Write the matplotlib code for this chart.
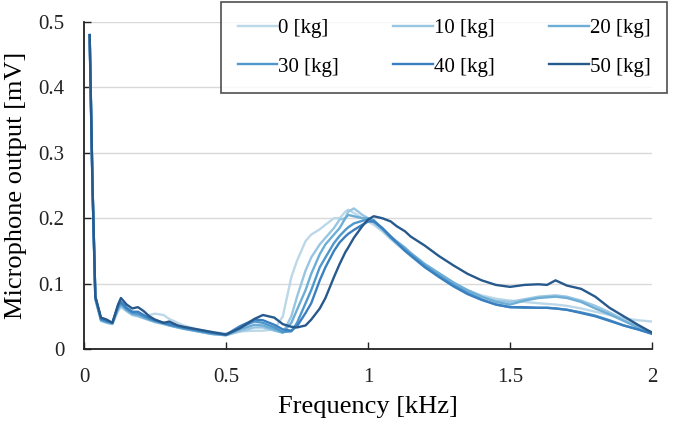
import numpy as np
import matplotlib.pyplot as plt

# ------------------ DATOS ------------------

freq = [0.02, 0.03, 0.04, 0.06, 0.08, 0.1,
        0.12, 0.13, 0.15, 0.17, 0.19,
        0.21, 0.23, 0.25, 0.28, 0.3,
        0.33, 0.35, 0.4, 0.45, 0.5,
        0.55, 0.6, 0.63, 0.67, 0.7,
        0.73, 0.75, 0.78, 0.8, 0.83,
        0.85, 0.88, 0.9, 0.92, 0.93,
        0.95, 0.98, 1.0, 1.02, 1.05,
        1.08, 1.1, 1.13, 1.15, 1.2,
        1.25, 1.3, 1.35, 1.4, 1.45,
        1.5, 1.55, 1.6, 1.63, 1.66,
        1.7, 1.75, 1.8, 1.85, 1.9,
        1.95, 2.0]

kg0 = [0.48, 0.25, 0.08, 0.045, 0.042, 0.040,
       0.058, 0.064, 0.058, 0.053, 0.052,
       0.050, 0.052, 0.054, 0.052, 0.046,
       0.040, 0.036, 0.030, 0.026, 0.024,
       0.027, 0.028, 0.028, 0.030, 0.050,
       0.110, 0.135, 0.165, 0.175, 0.183,
       0.190, 0.200, 0.200, 0.210, 0.213,
       0.208, 0.200, 0.195, 0.190, 0.180,
       0.168, 0.160, 0.150, 0.142, 0.125,
       0.112, 0.100, 0.090, 0.082, 0.077,
       0.074, 0.072, 0.070, 0.069, 0.068,
       0.066, 0.062, 0.057, 0.052, 0.047,
       0.044, 0.042]

kg10 = [0.47, 0.24, 0.075, 0.043, 0.040, 0.038,
        0.060, 0.066, 0.058, 0.052, 0.050,
        0.047, 0.044, 0.041, 0.038, 0.036,
        0.033, 0.031, 0.027, 0.023, 0.021,
        0.027, 0.033, 0.033, 0.028, 0.025,
        0.050, 0.080, 0.120, 0.140, 0.160,
        0.170, 0.185, 0.198, 0.200, 0.210,
        0.215, 0.205, 0.200, 0.193, 0.182,
        0.170, 0.163, 0.152, 0.145, 0.128,
        0.114, 0.100, 0.090, 0.080, 0.074,
        0.072, 0.076, 0.080, 0.081, 0.082,
        0.080, 0.074, 0.066, 0.056, 0.045,
        0.034, 0.025]

kg20 = [0.48, 0.25, 0.078, 0.044, 0.041, 0.039,
        0.062, 0.068, 0.060, 0.054, 0.052,
        0.048, 0.045, 0.042, 0.039, 0.036,
        0.033, 0.031, 0.027, 0.023, 0.021,
        0.030, 0.037, 0.036, 0.030, 0.025,
        0.040, 0.060, 0.090, 0.115, 0.145,
        0.160, 0.175, 0.185, 0.200, 0.205,
        0.203, 0.200, 0.200, 0.196, 0.185,
        0.172, 0.165, 0.155, 0.147, 0.130,
        0.116, 0.102, 0.090, 0.080, 0.072,
        0.068, 0.074, 0.078, 0.079, 0.080,
        0.078, 0.072, 0.062, 0.053, 0.043,
        0.033, 0.025]

kg30 = [0.48, 0.25, 0.078, 0.045, 0.042, 0.040,
        0.064, 0.070, 0.061, 0.055, 0.054,
        0.050, 0.046, 0.043, 0.040, 0.037,
        0.034, 0.032, 0.028, 0.024, 0.022,
        0.033, 0.042, 0.040, 0.033, 0.026,
        0.027, 0.040, 0.070, 0.090, 0.125,
        0.140, 0.162, 0.173, 0.182, 0.186,
        0.192, 0.196, 0.198, 0.197, 0.184,
        0.170, 0.163, 0.152, 0.145, 0.127,
        0.112, 0.098, 0.086, 0.076, 0.068,
        0.064, 0.063, 0.063, 0.063, 0.062,
        0.060, 0.056, 0.051, 0.044, 0.036,
        0.030, 0.024]

kg40 = [0.48, 0.25, 0.08, 0.046, 0.043, 0.040,
        0.066, 0.072, 0.063, 0.057, 0.057,
        0.052, 0.047, 0.044, 0.040, 0.038,
        0.035, 0.033, 0.029, 0.025, 0.022,
        0.035, 0.045, 0.044, 0.037, 0.030,
        0.028, 0.035, 0.055, 0.070, 0.105,
        0.125, 0.150, 0.163, 0.172, 0.176,
        0.182, 0.190, 0.195, 0.195, 0.185,
        0.172, 0.163, 0.150, 0.143, 0.125,
        0.110, 0.096, 0.084, 0.075, 0.068,
        0.064, 0.064, 0.063, 0.063, 0.062,
        0.060, 0.055, 0.050, 0.043, 0.036,
        0.030, 0.023]

kg50 = [0.48, 0.25, 0.08, 0.048, 0.045, 0.040,
        0.068, 0.078, 0.068, 0.062, 0.064,
        0.058, 0.050, 0.045, 0.040, 0.042,
        0.036, 0.034, 0.030, 0.026, 0.022,
        0.032, 0.046, 0.052, 0.048, 0.038,
        0.034, 0.033, 0.036, 0.045, 0.062,
        0.078, 0.110, 0.130, 0.148, 0.155,
        0.170, 0.188, 0.198, 0.203, 0.200,
        0.195, 0.188, 0.180, 0.172, 0.158,
        0.142, 0.128, 0.115, 0.105, 0.098,
        0.095, 0.098, 0.099, 0.098, 0.105,
        0.097, 0.092, 0.080, 0.063, 0.050,
        0.037, 0.025]

etiquetas = ['0 [kg]', '10 [kg]', '20 [kg]', '30 [kg]', '40 [kg]', '50 [kg]']
colores = ['#bcd8e8', '#98c6e2', '#6eaed6', '#4f98cc', '#3a7fbf', '#27598c']

# ------------------ GRAFICO ------------------

plt.rcParams['font.family'] = ['Liberation Serif', 'DejaVu Serif']

fig = plt.figure(figsize=(6.85, 4.25), dpi=100)
ax = fig.add_axes([0.1226, 0.1788, 0.8294, 0.7694])

series = [kg0, kg10, kg20, kg30, kg40, kg50]
lineas = []
for vals, lab, col in zip(series, etiquetas, colores):
    l, = ax.plot(freq, vals, color=col, linewidth=1.7, label=lab)
    lineas.append(l)

ax.set_xlim(0, 2)
ax.set_ylim(0, 0.5)
ax.set_xticks([0, 0.5, 1, 1.5, 2])
ax.set_xticklabels(['0', '0.5', '1', '1.5', '2'])
ax.set_yticks([0, 0.1, 0.2, 0.3, 0.4, 0.5])
ax.set_yticklabels(['0', '0.1', '0.2', '0.3', '0.4', '0.5'])
ax.tick_params(direction='in', length=5, width=1, labelsize=15, colors='#222222')
ax.tick_params(axis='x', pad=14)
ax.tick_params(axis='y', pad=14)
ax.yaxis.grid(True, color='#d9d9d9', linewidth=1)
ax.set_axisbelow(True)
for s in ('top', 'right'):
    ax.spines[s].set_visible(False)
for s in ('left', 'bottom'):
    ax.spines[s].set_color('#222222')
    ax.spines[s].set_linewidth(1.3)

ax.set_xlabel('Frequency [kHz]', fontsize=19, labelpad=6)
ax.set_ylabel('Microphone output [mV]', fontsize=19, labelpad=8)

# orden por columnas para que las filas queden 0,10,20 / 30,40,50
orden = [0, 3, 1, 4, 2, 5]
leg = fig.legend([lineas[i] for i in orden], [etiquetas[i] for i in orden],
                 ncol=3, loc='upper right', bbox_to_anchor=(667 / 685, 1 - 2 / 425),
                 fontsize=15, frameon=True, fancybox=False, handlelength=1.9,
                 handletextpad=0.05, columnspacing=2.6, borderpad=0.8,
                 borderaxespad=0, labelspacing=0.9)
leg.get_frame().set_edgecolor('#222222')
leg.get_frame().set_linewidth(1.2)

fig.savefig('out.png', dpi=100)
